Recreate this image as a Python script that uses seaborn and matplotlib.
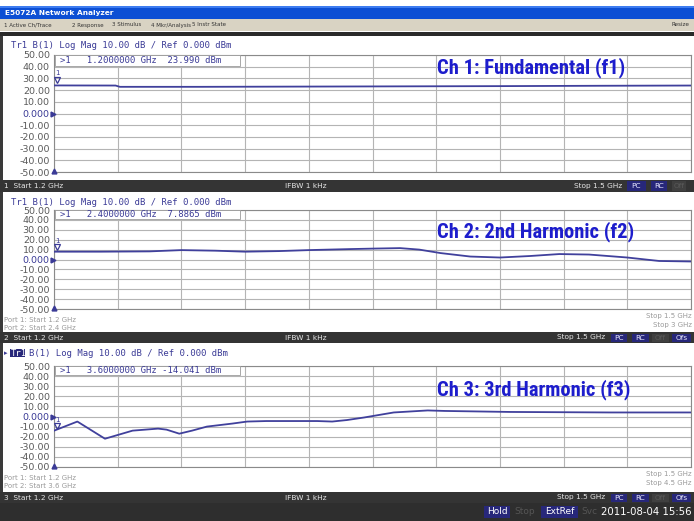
import numpy as np
import pandas as pd
import matplotlib
matplotlib.use("Agg")
import matplotlib.pyplot as plt
from matplotlib.patches import Rectangle
import seaborn as sns

# DATA (frequency axis in GHz, trace level in dBm)
f1_freq = [1.200, 1.229, 1.231, 1.269, 1.316, 1.363, 1.410, 1.457, 1.500]
f1_level = [23.99, 23.9, 22.8, 22.8, 23.0, 23.2, 23.4, 23.7, 23.9]

f2_freq = [1.200, 1.222, 1.245, 1.260, 1.276, 1.290, 1.306, 1.320, 1.339, 1.350, 1.363,
           1.372, 1.382, 1.396, 1.410, 1.424, 1.438, 1.452, 1.470, 1.485, 1.500]
f2_level = [7.89, 7.9, 8.2, 9.5, 8.9, 7.9, 8.5, 9.5, 10.5, 11.0, 11.5,
            10.0, 6.5, 3.0, 2.0, 3.5, 5.5, 5.0, 2.0, -1.5, -2.0]

f3_freq = [1.200, 1.211, 1.224, 1.237, 1.249, 1.253, 1.259, 1.265, 1.272, 1.284, 1.291,
           1.300, 1.324, 1.331, 1.338, 1.346, 1.360, 1.376, 1.384, 1.415, 1.462, 1.500]
f3_level = [-14.04, -5, -22, -14, -12, -13, -17, -14, -10, -7, -5,
            -4.5, -4.5, -5, -3.5, -1, 4, 6, 5.5, 4.5, 4, 4]

y_ticks = [50, 40, 30, 20, 10, 0, -10, -20, -30, -40, -50]
y_tick_labels = ["50.00", "40.00", "30.00", "20.00", "10.00", "0.000",
                 "-10.00", "-20.00", "-30.00", "-40.00", "-50.00"]
titles = ["Ch 1: Fundamental (f1)", "Ch 2: 2nd Harmonic (f2)", "Ch 3: 3rd Harmonic (f3)"]
markers = [">1   1.2000000 GHz  23.990 dBm",
           ">1   2.4000000 GHz  7.8865 dBm",
           ">1   3.6000000 GHz -14.041 dBm"]
header = "Tr1 B(1) Log Mag 10.00 dB / Ref 0.000 dBm"
menu_items = ["1 Active Ch/Trace", "2 Response", "3 Stimulus", "4 Mkr/Analysis", "5 Instr State"]
port_left = [None, ["Port 1: Start 1.2 GHz", "Port 2: Start 2.4 GHz"],
             ["Port 1: Start 1.2 GHz", "Port 2: Start 3.6 GHz"]]
port_right = [None, ["Stop 1.5 GHz", "Stop 3 GHz"], ["Stop 1.5 GHz", "Stop 4.5 GHz"]]

sns.set_style("white")
plt.rcParams["font.family"] = ["DejaVu Sans"]

W, H = 694, 521
NAVY = "#3a3a96"
TRACE = "#40409c"
BAR = "#343434"
BOXBLUE = "#27277a"
TITLE_FONT = ["Roboto Condensed", "Liberation Sans Narrow", "Roboto", "DejaVu Sans"]

fig = plt.figure(figsize=(W / 100, H / 100), dpi=100)
fig.patch.set_facecolor("white")

def fx(px):
    return px / W

def fy(py):
    return 1 - py / H

def rect(x0, y0, x1, y1, color, z=0, ec="none"):
    fig.patches.append(Rectangle((fx(x0), fy(y1)), (x1 - x0) / W, (y1 - y0) / H,
                                 transform=fig.transFigure, facecolor=color,
                                 edgecolor=ec, lw=0.6, zorder=z))

def label(px, py, s, **kw):
    fig.text(fx(px), fy(py), s, va="center", **kw)

# TITLE BAR + MENU
rect(0, 6, W, 19, "#0c4fd4")
rect(0, 6, W, 8, "#3d7cf0")
label(5, 13, "E5072A Network Analyzer", color="white", fontsize=5.3, fontweight="bold")
rect(0, 19, W, 31, "#d9d3c3")
for x, s in zip([4, 72, 112, 151, 192], menu_items):
    label(x, 25, s, color="#333333", fontsize=4.0)
label(671, 25, "Resize", color="#333333", fontsize=4.1)
rect(0, 32, W, 36, "#2a2a2a")
rect(0, 36, 3, 503, "#3a3a3a")

# PANELS
panels = [
    dict(freq=f1_freq, level=f1_level, top=55, bottom=172, head=45, bar=(180, 192), ch="1", ofs=False, ty=68),
    dict(freq=f2_freq, level=f2_level, top=210, bottom=309, head=203, bar=(332, 343), ch="2", ofs=True, ty=232),
    dict(freq=f3_freq, level=f3_level, top=366, bottom=467, head=353, bar=(492, 503), ch="3", ofs=True, ty=390),
]

for i, p in enumerate(panels):
    ax = fig.add_axes([fx(54), fy(p["bottom"]), (691 - 54) / W, (p["bottom"] - p["top"]) / H])
    ax.set_facecolor("white")
    df = pd.DataFrame({"freq": p["freq"], "level": p["level"]})
    sns.lineplot(data=df, x="freq", y="level", ax=ax, color=TRACE, lw=1.3, zorder=4)
    ax.set_xlim(1.2, 1.5)
    ax.set_ylim(-50, 50)
    ax.set_xticks(np.linspace(1.2, 1.5, 11))
    ax.set_xticklabels([])
    ax.set_yticks(y_ticks)
    ax.set_yticklabels(y_tick_labels)
    ax.tick_params(axis="both", length=0, pad=3)
    ax.tick_params(axis="y", labelsize=6.8, labelcolor="#5a5a5a")
    ax.get_yticklabels()[5].set_color(NAVY)
    ax.grid(True, color="#b4b4b4", lw=0.8)
    ax.set_xlabel("")
    ax.set_ylabel("")
    for sp in ax.spines.values():
        sp.set_color("#8a8a8a")
        sp.set_linewidth(0.8)

    # marker readout box
    ax.add_patch(Rectangle((1.2005, 40.6), 0.087, 9.0, facecolor="white",
                           edgecolor="#9a9a9a", lw=0.6, zorder=3))
    ax.text(1.2027, 45.2, markers[i], fontsize=6.4, family="DejaVu Sans Mono",
            color=NAVY, va="center", zorder=5)

    # markers on trace / axis
    ax.plot([1.2015], [p["level"][0] + 5], marker="v", mfc="none", mec=NAVY, ms=5,
            mew=0.9, clip_on=False, zorder=6)
    ax.text(1.2015, p["level"][0] + 11, "1", fontsize=5, color=NAVY, ha="center",
            va="center", clip_on=False)
    ax.plot([1.1993], [0], marker=">", color=NAVY, ms=3.5, clip_on=False, zorder=6)
    ax.plot([1.2], [-49], marker="^", color=NAVY, ms=3.5, clip_on=False, zorder=6)

    # channel title overlay
    label(437, p["ty"], titles[i], color="#1d1dcc", fontsize=14.8, fontweight="bold",
          family=TITLE_FONT)

    # trace header
    if i == 2:
        rect(10, p["head"] - 4, 25, p["head"] + 4, BOXBLUE, z=1)
        label(4, p["head"], "\u25B8", color=NAVY, fontsize=5)
        label(11, p["head"], "Tr1", color="white", fontsize=6.4, family="DejaVu Sans Mono")
        label(29, p["head"], header[4:], color=NAVY, fontsize=6.4, family="DejaVu Sans Mono")
    else:
        label(11, p["head"], header, color=NAVY, fontsize=6.4, family="DejaVu Sans Mono")

    # port lines
    if port_left[i]:
        for k in range(2):
            label(4, p["bottom"] + 11 + 8 * k, port_left[i][k], color="#9a9a9a", fontsize=5)
            label(692, p["bottom"] + 7 + 9 * k, port_right[i][k], color="#9a9a9a",
                  fontsize=5, ha="right")

    # status bar
    b0, b1 = p["bar"]
    yc = (b0 + b1) / 2
    rect(0, b0, W, b1, BAR)
    label(4, yc, p["ch"] + "  Start 1.2 GHz", color="#e6e6e6", fontsize=5.3)
    label(285, yc, "IFBW 1 kHz", color="#e6e6e6", fontsize=5.3)
    if p["ofs"]:
        label(557, yc, "Stop 1.5 GHz", color="#e6e6e6", fontsize=5.3)
        boxes = [(611, 627, "PC", BOXBLUE, "#e8e8ff"), (632, 649, "RC", BOXBLUE, "#e8e8ff"),
                 (652, 669, "Off", "#404040", "#5a5a5a"), (672, 691, "Ofs", BOXBLUE, "#e8e8ff")]
    else:
        label(574, yc, "Stop 1.5 GHz", color="#e6e6e6", fontsize=5.3)
        boxes = [(627, 646, "PC", BOXBLUE, "#e8e8ff"), (651, 667, "RC", BOXBLUE, "#e8e8ff"),
                 (672, 686, "Off", "#404040", "#5a5a5a")]
    for x0, x1, s, bc, tc in boxes:
        rect(x0, b0 + 1.5, x1, b1 - 1.5, bc, z=1)
        label((x0 + x1) / 2, yc, s, color=tc, fontsize=5.3, ha="center")

# BOTTOM BAR
rect(0, 503, W, H, "#2e2e2e")
rect(484, 506, 510, 518, BOXBLUE, z=1)
label(497, 512, "Hold", color="white", fontsize=6.5, ha="center")
label(525, 512, "Stop", color="#555555", fontsize=6.5, ha="center")
rect(541, 506, 578, 518, BOXBLUE, z=1)
label(559.5, 512, "ExtRef", color="white", fontsize=6.5, ha="center")
label(589, 512, "Svc", color="#555555", fontsize=6.5, ha="center")
label(601, 512, "2011-08-04 15:56", color="white", fontsize=7.3)

plt.savefig("out.png", dpi=100, facecolor=fig.get_facecolor())
